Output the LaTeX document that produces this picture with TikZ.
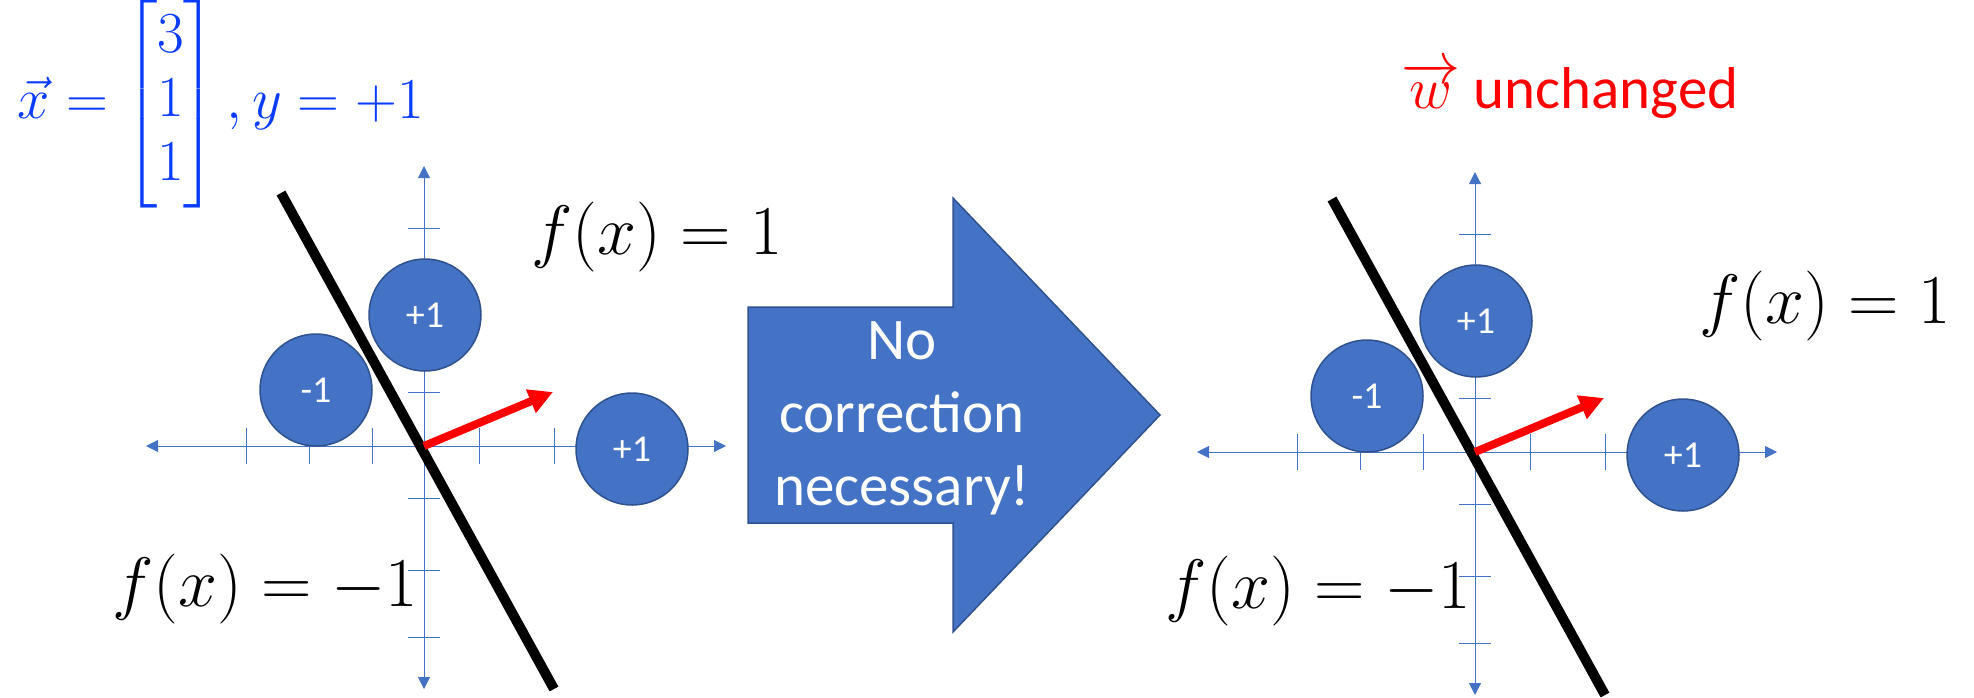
\RequirePackage{fix-cm}
\documentclass[tikz,border=0pt]{standalone}
\usepackage{fontspec}
\setmainfont{Carlito}
\usepackage{amsmath}
\usepackage{xcolor}
\usetikzlibrary{arrows.meta}
\definecolor{ppblue}{HTML}{4472C4}
\definecolor{ppedge}{HTML}{2F528F}
\definecolor{vecblue}{HTML}{0A3CFF}

\begin{document}
\begin{tikzpicture}[
  x=0.5pt, y=-0.5pt,
  axis/.style={ppblue, line width=0.5pt,
               {Triangle[length=6pt,width=6pt]}-{Triangle[length=6pt,width=6pt]}},
  tick/.style={ppblue, line width=0.5pt},
  sample/.style={circle, draw=ppedge, line width=0.75pt, fill=ppblue,
                 minimum size=56pt, inner sep=0pt, text=white,
                 font=\fontsize{19}{23}\selectfont},
  boundary/.style={line width=5pt},
  wvec/.style={red, line width=4pt, -{Triangle[length=12pt,width=12pt]}},
  fx/.style={font=\fontsize{35}{41}\selectfont},
  bigarrow/.style={fill=ppblue, draw=ppedge, line width=0.75pt},
]
  \useasboundingbox (0,0) rectangle (1974,697);

  % Training sample
  \node[text=vecblue, inner sep=0pt, font=\fontsize{29}{32}\selectfont]
       (xin) at (221,104)
       {$\vec{x} = \begin{bmatrix}3\\1\\1\end{bmatrix}, y = +1$};

  % Two copies of the same plane: before / after
  \foreach \p/\ox/\oy in {l/424/446, r/1475/452} {
    \begin{scope}[shift={(\ox,\oy)}]
      \coordinate (\p O) at (0,0);
      \coordinate (\p W) at (-278,0);
      \coordinate (\p E) at (302,0);
      \coordinate (\p N) at (0,-280);
      \coordinate (\p S) at (0,243);
      \draw[axis] (\p W) -- (\p E);
      \draw[axis] (\p N) -- (\p S);
      \foreach \t in {-178,-115,-52,55,130}
        \draw[tick] (\t,-18) -- (\t,18);
      \foreach \t in {-218,-54,52,124,191}
        \draw[tick] (-16,\t) -- (16,\t);

      % samples
      \node[sample] (\p up)  at (1,-131)  {+1};
      \node[sample] (\p neg) at (-108,-56) {-1};
      \node[sample] (\p rt)  at (208,3)   {+1};

      % decision boundary and weight vector
      \coordinate (\p a) at (-143,-253);
      \coordinate (\p b) at (130,243);
      \draw[boundary] (\p a) -- (\p b);
      \coordinate (\p w) at (129,-54);
      \draw[wvec] (\p O) -- (\p w);
    \end{scope}
  }

  % Block arrow in the middle
  \draw[bigarrow] (748,307) -- (953,307) -- (953,198) -- (1160,415)
                  -- (953,632) -- (953,523) -- (748,523) -- cycle;
  \node[text=white, align=center, font=\fontsize{29.5}{36.5}\selectfont]
       (msg) at (902,418) {No\\correction\\necessary!};

  % Region labels
  \node[fx] (lpos) at (657,237)  {$f(x) = 1$};
  \node[fx] (lneg) at (265,589)  {$f(x) = -1$};
  \node[fx] (rpos) at (1825,306) {$f(x) = 1$};
  \node[fx] (rneg) at (1318,591) {$f(x) = -1$};

  \node[text=red, font=\fontsize{29.5}{35}\selectfont] (wlab) at (1570,90)
       {$\overrightarrow{w}$ unchanged};
\end{tikzpicture}
\end{document}
